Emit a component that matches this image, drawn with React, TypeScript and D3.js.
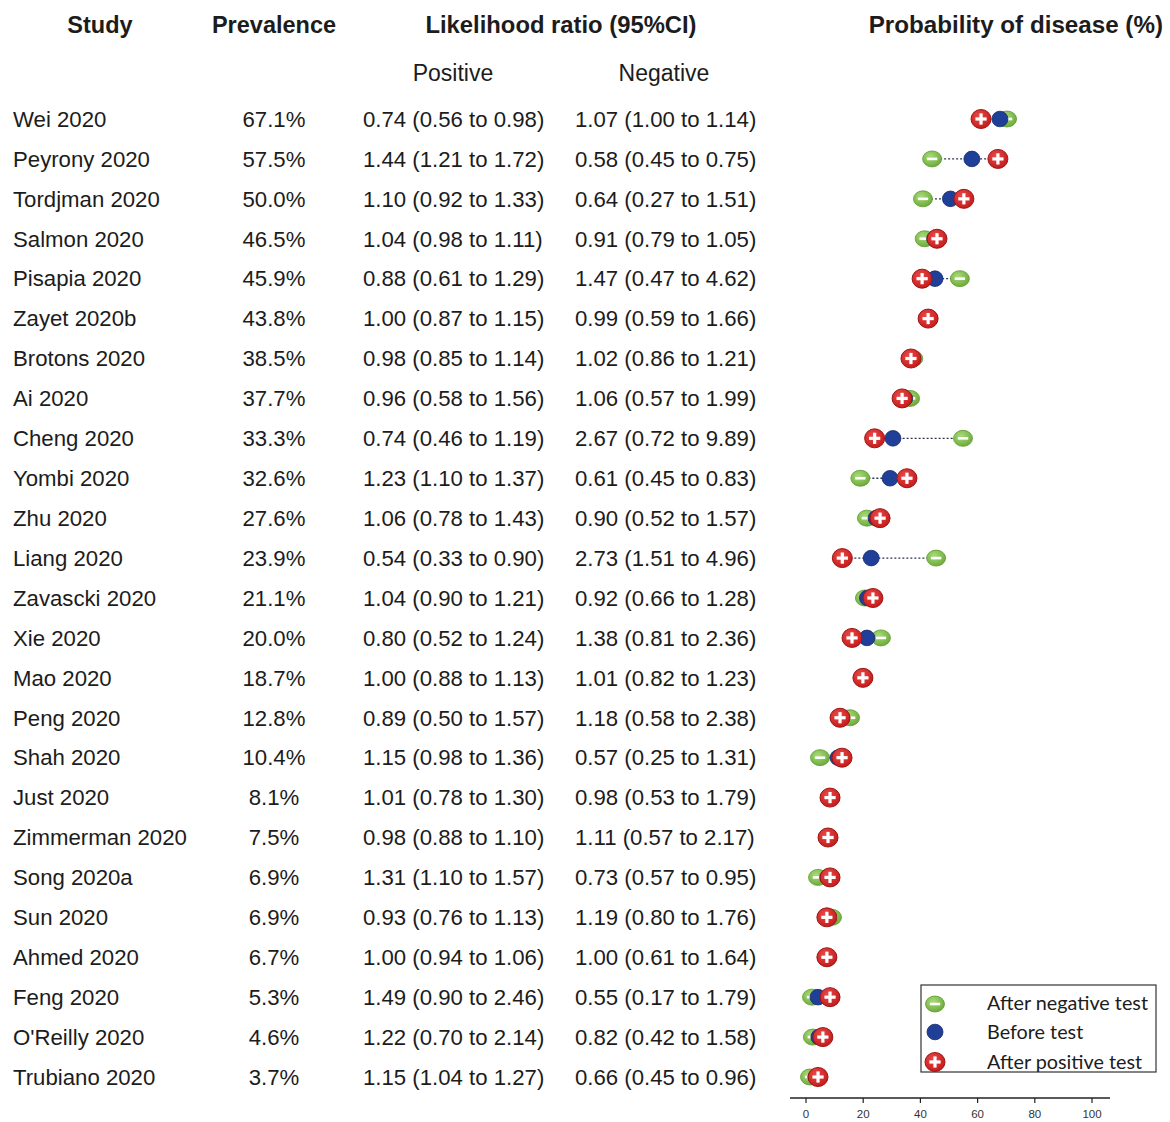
import React from "react";
import * as d3 from "d3";

const studies = ["Wei 2020","Peyrony 2020","Tordjman 2020","Salmon 2020","Pisapia 2020","Zayet 2020b","Brotons 2020","Ai 2020","Cheng 2020","Yombi 2020","Zhu 2020","Liang 2020","Zavascki 2020","Xie 2020","Mao 2020","Peng 2020","Shah 2020","Just 2020","Zimmerman 2020","Song 2020a","Sun 2020","Ahmed 2020","Feng 2020","O'Reilly 2020","Trubiano 2020"];
const prevalence = ["67.1%","57.5%","50.0%","46.5%","45.9%","43.8%","38.5%","37.7%","33.3%","32.6%","27.6%","23.9%","21.1%","20.0%","18.7%","12.8%","10.4%","8.1%","7.5%","6.9%","6.9%","6.7%","5.3%","4.6%","3.7%"];
const lrPositive = ["0.74 (0.56 to 0.98)","1.44 (1.21 to 1.72)","1.10 (0.92 to 1.33)","1.04 (0.98 to 1.11)","0.88 (0.61 to 1.29)","1.00 (0.87 to 1.15)","0.98 (0.85 to 1.14)","0.96 (0.58 to 1.56)","0.74 (0.46 to 1.19)","1.23 (1.10 to 1.37)","1.06 (0.78 to 1.43)","0.54 (0.33 to 0.90)","1.04 (0.90 to 1.21)","0.80 (0.52 to 1.24)","1.00 (0.88 to 1.13)","0.89 (0.50 to 1.57)","1.15 (0.98 to 1.36)","1.01 (0.78 to 1.30)","0.98 (0.88 to 1.10)","1.31 (1.10 to 1.57)","0.93 (0.76 to 1.13)","1.00 (0.94 to 1.06)","1.49 (0.90 to 2.46)","1.22 (0.70 to 2.14)","1.15 (1.04 to 1.27)"];
const lrNegative = ["1.07 (1.00 to 1.14)","0.58 (0.45 to 0.75)","0.64 (0.27 to 1.51)","0.91 (0.79 to 1.05)","1.47 (0.47 to 4.62)","0.99 (0.59 to 1.66)","1.02 (0.86 to 1.21)","1.06 (0.57 to 1.99)","2.67 (0.72 to 9.89)","0.61 (0.45 to 0.83)","0.90 (0.52 to 1.57)","2.73 (1.51 to 4.96)","0.92 (0.66 to 1.28)","1.38 (0.81 to 2.36)","1.01 (0.82 to 1.23)","1.18 (0.58 to 2.38)","0.57 (0.25 to 1.31)","0.98 (0.53 to 1.79)","1.11 (0.57 to 2.17)","0.73 (0.57 to 0.95)","1.19 (0.80 to 1.76)","1.00 (0.61 to 1.64)","0.55 (0.17 to 1.79)","0.82 (0.42 to 1.58)","0.66 (0.45 to 0.96)"];
// probability of disease (%) as plotted
const beforeTest = [67.8,58.0,50.5,45.0,45.1,42.7,36.7,34.5,30.4,29.4,24.5,22.8,21.5,21.3,19.9,12.5,11.2,8.4,7.7,7.6,7.5,7.3,4.2,4.5,3.5];
const afterPositive = [61.2,67.1,55.2,45.8,40.6,42.7,36.7,33.6,24.0,35.3,25.9,12.7,23.4,16.1,19.9,11.9,12.6,8.4,7.7,8.4,7.3,7.3,8.4,5.9,4.2];
const afterNegative = [70.3,44.1,40.9,41.5,53.8,42.7,37.5,36.4,54.9,19.0,21.3,45.5,20.6,26.2,19.9,15.4,4.9,8.4,7.7,4.2,9.1,7.3,2.1,2.4,1.4];
const axisTicks = [0,20,40,60,80,100];
const legendLabels = ["After negative test","Before test","After positive test"];

const W = 1170, H = 1122;
const textFont = "'Liberation Sans', Arial, sans-serif";
const ink = "#1c1c1c";

function RedMarker({ x, y }: { x: number; y: number }) {
  const rx = 10, ry = 9.5;
  return (
    <g transform={`translate(${x},${y})`}>
      <ellipse rx={rx} ry={ry} fill="url(#redGrad)" stroke="#9e1515" strokeWidth={1} />
      <rect x={-5.6} y={-1.6} width={11.2} height={3.2} fill="#fff" />
      <rect x={-1.6} y={-5.6} width={3.2} height={11.2} fill="#fff" />
    </g>
  );
}
function GreenMarker({ x, y }: { x: number; y: number }) {
  const rx = 9.5, ry = 8;
  return (
    <g transform={`translate(${x},${y})`}>
      <ellipse rx={rx} ry={ry} fill="url(#greenGrad)" stroke="#5e9a2e" strokeWidth={0.8} />
      <rect x={-5.2} y={-1.3} width={10.4} height={2.6} fill="#fff" />
    </g>
  );
}
function BlueMarker({ x, y }: { x: number; y: number }) {
  return <ellipse cx={x} cy={y} rx={8} ry={7.8} fill="#1f3f98" stroke="#15296a" strokeWidth={0.8} />;
}

export default function App() {
  const x = d3.scaleLinear().domain([0, 100]).range([806, 1092]);
  const y = d3.scalePoint<string>().domain(studies).range([119, 1077]);
  const axisY = 1098;

  return (
    <div style={{ position: "absolute", left: 0, top: 0 }}>
      <svg width={W} height={H} viewBox={`0 0 ${W} ${H}`} style={{ display: "block", background: "#fff" }}>
        <defs>
          <radialGradient id="redGrad" cx="40%" cy="35%" r="70%">
            <stop offset="0%" stopColor="#e84a4a" />
            <stop offset="100%" stopColor="#c41818" />
          </radialGradient>
          <radialGradient id="greenGrad" cx="40%" cy="35%" r="70%">
            <stop offset="0%" stopColor="#a8db78" />
            <stop offset="100%" stopColor="#6aa83a" />
          </radialGradient>
        </defs>

        {/* headers */}
        <g fontFamily={textFont} fontWeight="bold" fill={ink}>
          <text x={100} y={25} dy="0.35em" textAnchor="middle" fontSize={23.5}>Study</text>
          <text x={274} y={25} dy="0.35em" textAnchor="middle" fontSize={23.5}>Prevalence</text>
          <text x={561} y={25} dy="0.35em" textAnchor="middle" fontSize={23.8}>Likelihood ratio (95%CI)</text>
          <text x={1163} y={25} dy="0.35em" textAnchor="end" fontSize={24.2}>Probability of disease (%)</text>
        </g>
        <g fontFamily={textFont} fontSize={23} fill={ink}>
          <text x={453} y={73} dy="0.35em" textAnchor="middle">Positive</text>
          <text x={664} y={73} dy="0.35em" textAnchor="middle">Negative</text>
        </g>

        {/* rows text */}
        <g fontFamily={textFont} fontSize={22.2} fill={ink}>
          {studies.map((s, i) => (
            <g key={s}>
              <text x={13} y={y(s)!} dy="0.35em">{s}</text>
              <text x={274} y={y(s)!} dy="0.35em" textAnchor="middle">{prevalence[i]}</text>
              <text x={363} y={y(s)!} dy="0.35em">{lrPositive[i]}</text>
              <text x={575} y={y(s)!} dy="0.35em">{lrNegative[i]}</text>
            </g>
          ))}
        </g>

        {/* markers */}
        {studies.map((s, i) => {
          const vals = [beforeTest[i], afterPositive[i], afterNegative[i]];
          const lo = d3.min(vals)!, hi = d3.max(vals)!;
          const cy = y(s)!;
          return (
            <g key={s}>
              <line x1={x(lo)} x2={x(hi)} y1={cy} y2={cy} stroke="#2e3550" strokeWidth={1.3} strokeDasharray="2,2" />
              <GreenMarker x={x(afterNegative[i])} y={cy} />
              <BlueMarker x={x(beforeTest[i])} y={cy} />
              <RedMarker x={x(afterPositive[i])} y={cy} />
            </g>
          );
        })}

        {/* legend */}
        <g>
          <rect x={921} y={985} width={235} height={87} fill="#fff" stroke="#333" strokeWidth={1.2} />
          <GreenMarker x={935} y={1004} />
          <BlueMarker x={935} y={1032} />
          <RedMarker x={935} y={1062} />
          <g fontFamily="Lato, 'Open Sans', sans-serif" fontSize={19.8} fill={ink}>
            {legendLabels.map((l, i) => (
              <text key={l} x={987} y={1003 + i * 29.5} dy="0.35em">{l}</text>
            ))}
          </g>
        </g>

        {/* axis */}
        <g>
          <line x1={790} x2={1110} y1={axisY} y2={axisY} stroke="#222" strokeWidth={1.3} />
          {axisTicks.map((t) => (
            <g key={t}>
              <line x1={x(t)} x2={x(t)} y1={axisY} y2={axisY + 5} stroke="#222" strokeWidth={1.2} />
              <text x={x(t)} y={1114} dy="0.35em" textAnchor="middle" fontFamily={textFont} fontSize={11.5} fill="#333">{t}</text>
            </g>
          ))}
        </g>
      </svg>
    </div>
  );
}
